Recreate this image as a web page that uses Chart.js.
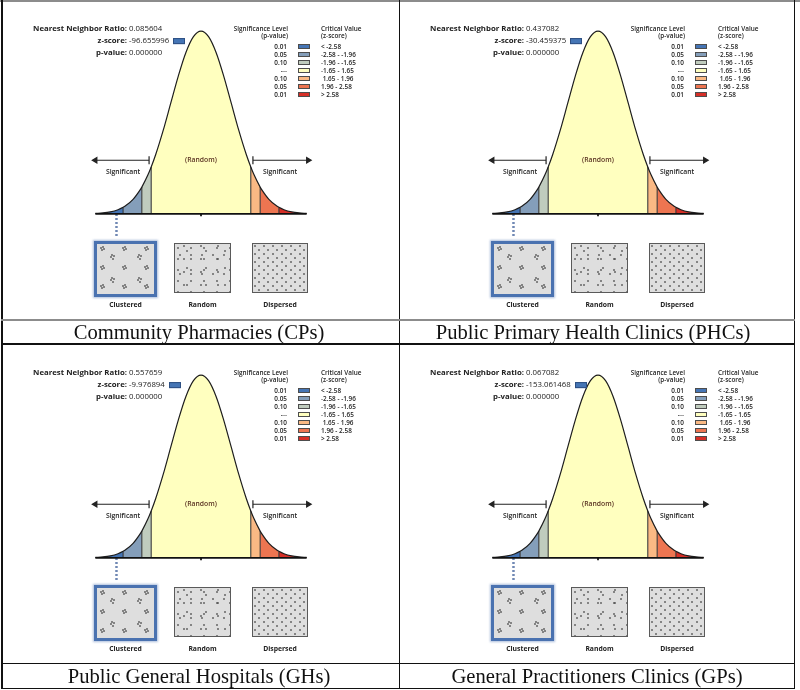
<!DOCTYPE html>
<html>
<head>
<meta charset="utf-8">
<script src="https://cdn.jsdelivr.net/npm/chart.js@4.4.0/dist/chart.umd.min.js"></script>
<style>
  body { margin: 0; width: 800px; height: 690px; background: #fff; position: relative; overflow: hidden;
         font-family: "Open Sans", "DejaVu Sans", sans-serif; color: #222; }
  .rule { position: absolute; background: #111; }
  .panel { position: absolute; width: 398px; height: 320px; }
  .panel canvas { position: absolute; left: 0; top: 0; }
  .txt { position: absolute; white-space: nowrap; line-height: 1; transform: translateY(-50%); }
  .stat-label { font-size: 7.8px; font-weight: 700; }
  .stat-value { font-size: 7.8px; }
  .leg { font-size: 6.4px; font-weight: 600; }
  .swatch { position: absolute; height: 5px; box-sizing: border-box; border: 1px solid #4d4d4d; }
  .zswatch { display: inline-block; width: 12px; height: 6px; margin-left: 4px; vertical-align: -1px;
             box-sizing: border-box; border: 1px solid #2d4f82; background: #4575b5; }
  .box { position: absolute; box-sizing: border-box; background-color: #dedede; border: 1px solid #5a5a5a; }
  .box.clustered { border: 3px solid #4a72b0; box-shadow: 0 0 2px 1px rgba(74, 114, 176, 0.45);
    background-image:
      radial-gradient(circle at 4px 4px, #444 0.5px, transparent 1px),
      radial-gradient(circle at 6px 3px, #444 0.5px, transparent 1px),
      radial-gradient(circle at 5px 6px, #444 0.5px, transparent 1px),
      radial-gradient(circle at 7px 5px, #444 0.5px, transparent 1px),
      radial-gradient(circle at 14px 13px, #444 0.5px, transparent 1px),
      radial-gradient(circle at 16px 15px, #444 0.5px, transparent 1px),
      radial-gradient(circle at 15px 11px, #444 0.5px, transparent 1px),
      radial-gradient(circle at 17px 12px, #444 0.5px, transparent 1px);
    background-size: 22px 19px, 22px 19px, 22px 19px, 22px 19px, 27px 23px, 27px 23px, 27px 23px, 27px 23px; }
  .box.random { background-image:
      radial-gradient(circle at 3px 4px, #444 0.5px, transparent 1px),
      radial-gradient(circle at 9px 2px, #444 0.5px, transparent 1px),
      radial-gradient(circle at 5px 11px, #444 0.5px, transparent 1px),
      radial-gradient(circle at 12px 7px, #444 0.5px, transparent 1px);
    background-size: 13px 11px, 17px 13px, 11px 19px, 19px 17px; }
  .box.dispersed { background-image:
      radial-gradient(circle at 2px 2px, #444 0.5px, transparent 1px),
      radial-gradient(circle at 6px 6px, #444 0.5px, transparent 1px);
    background-size: 9px 8px, 9px 8px; }
  .plabel { font-size: 6.8px; font-weight: 700; }
  .caption { position: absolute; font-family: "Liberation Serif", "Times New Roman", serif; font-size: 20.6px;
             white-space: nowrap; line-height: 1; transform: translate(-50%, -50%); color: #111; }
</style>
</head>
<body>
<script>
// --- DATA ---
const panelTitles = ['Community Pharmacies (CPs)', 'Public Primary Health Clinics (PHCs)',
                     'Public General Hospitals (GHs)', 'General Practitioners Clinics (GPs)'];
const nnRatios = ['0.085604', '0.437082', '0.557659', '0.067082'];
const zScores = ['-96.655996', '-30.459375', '-9.976894', '-153.061468'];
const pValues = ['0.000000', '0.000000', '0.000000', '0.000000'];

const bandEdges = [-3.5, -2.58, -1.96, -1.65, 1.65, 1.96, 2.58, 3.5];
const bandColors = ['#4575b5', '#849eba', '#c0ccbe', '#ffffbf', '#fab984', '#ed7551', '#d62f27'];
const sigLevels = ['0.01', '0.05', '0.10', '---', '0.10', '0.05', '0.01'];
const criticalValues = ['< -2.58', '-2.58 - -1.96', '-1.96 - -1.65', '-1.65 - 1.65', ' 1.65 - 1.96', '1.96 - 2.58', '> 2.58'];

// standard normal curve, read at fixed z steps plus the band edges
const curveZ = [-3.5, -3.25, -3, -2.75, -2.58, -2.5, -2.25, -2, -1.96, -1.75, -1.65, -1.5, -1.25, -1, -0.75, -0.5, -0.25,
                0, 0.25, 0.5, 0.75, 1, 1.25, 1.5, 1.65, 1.75, 1.96, 2, 2.25, 2.5, 2.58, 2.75, 3, 3.25, 3.5];
const curveDensity = [0.0009, 0.0020, 0.0044, 0.0091, 0.0143, 0.0175, 0.0317, 0.0540, 0.0584, 0.0863, 0.1023, 0.1295, 0.1826,
                      0.2420, 0.3011, 0.3521, 0.3867, 0.3989, 0.3867, 0.3521, 0.3011, 0.2420, 0.1826, 0.1295, 0.1023,
                      0.0863, 0.0584, 0.0540, 0.0317, 0.0175, 0.0143, 0.0091, 0.0044, 0.0020, 0.0009];

const arrowLeftZ = [-3.5, -1.72];
const arrowRightZ = [1.72, 3.55];
const arrowLevel = 0.117;
const clusterMarkerZ = -2.8;
const patternLabels = ['Clustered', 'Random', 'Dispersed'];

window.addEventListener('load', () => {

    const PANEL_W = 398;
    const panelOrigins = [[2, 0], [399, 0], [2, 344], [399, 344]];
    const captionCenters = [[199, 332], [593, 332], [199, 676], [597, 676]];

    // --- FRAME ---
    function rule(x, y, w, h, color) {
        const el = document.createElement('div');
        el.className = 'rule';
        Object.assign(el.style, { left: x + 'px', top: y + 'px', width: w + 'px', height: h + 'px' });
        if (color) el.style.background = color;
        document.body.appendChild(el);
    }
    rule(0, 0, 800, 2, '#8c8c8c');
    rule(1, 0, 1.5, 689);
    rule(398.5, 0, 1.5, 689);
    rule(793.5, 0, 1.5, 689);
    rule(1, 319, 794, 2, '#8c8c8c');
    rule(1, 343, 794, 1.5);
    rule(1, 662.5, 794, 1.5);
    rule(1, 687.5, 794, 1.5);

    // --- TEXT ---
    function addText(parent, text, x, y, cls, align) {
        const el = document.createElement('div');
        el.className = 'txt ' + cls;
        el.textContent = text;
        el.style.top = y + 'px';
        if (align === 'right') {
            el.style.right = (PANEL_W - x) + 'px';
        } else if (align === 'center') {
            el.style.left = x + 'px';
            el.style.transform = 'translate(-50%, -50%)';
        } else {
            el.style.left = x + 'px';
        }
        parent.appendChild(el);
        return el;
    }

    // --- CHART ---
    const diagramLabels = {
        id: 'diagramLabels',
        afterDatasetsDraw(chart) {
            const { ctx, scales: { x, y } } = chart;
            ctx.save();
            ctx.textAlign = 'center';
            ctx.textBaseline = 'middle';
            ctx.font = '600 6.8px "Open Sans"';
            ctx.fillStyle = '#5a3322';
            ctx.fillText('(Random)', x.getPixelForValue(0), y.getPixelForValue(arrowLevel));
            ctx.fillStyle = '#222';
            ctx.fillText('Significant', x.getPixelForValue(-2.58), y.getPixelForValue(0.092));
            ctx.fillText('Significant', x.getPixelForValue(2.62), y.getPixelForValue(0.092));
            ctx.restore();
        }
    };

    function buildDatasets() {
        const curve = curveZ.map((z, i) => ({ x: z, y: curveDensity[i] }));
        const datasets = [];
        bandColors.forEach((color, i) => {
            const lo = bandEdges[i], hi = bandEdges[i + 1];
            datasets.push({
                data: curve.filter(p => p.x >= lo && p.x <= hi),
                backgroundColor: color, fill: 'origin', borderWidth: 0, pointRadius: 0,
                cubicInterpolationMode: 'monotone', order: 5
            });
        });
        const edgeLines = [];
        bandEdges.slice(1, -1).forEach(z => {
            edgeLines.push({ x: z, y: 0 }, { x: z, y: curveDensity[curveZ.indexOf(z)] }, { x: z, y: null });
        });
        datasets.push({ data: edgeLines, borderColor: '#2a2a2a', borderWidth: 1, pointRadius: 0, spanGaps: false, order: 3 });
        datasets.push({ data: curve, borderColor: '#1e1e1e', borderWidth: 1.2, pointRadius: 0,
                        cubicInterpolationMode: 'monotone', order: 2 });
        datasets.push({ data: [{ x: bandEdges[0], y: 0 }, { x: bandEdges[bandEdges.length - 1], y: 0 }],
                        borderColor: '#111', borderWidth: 1.6, pointRadius: 0, order: 1 });
        datasets.push({ data: [{ x: 0, y: 0 }, { x: 0, y: -0.005 }], borderColor: '#111', borderWidth: 1, pointRadius: 0, order: 1 });
        // significance arrows
        datasets.push({
            data: arrowLeftZ.map(z => ({ x: z, y: arrowLevel })),
            borderColor: '#222', borderWidth: 1.2, order: 1,
            pointStyle: ['triangle', 'line'], pointRotation: [-90, 90], pointRadius: [3, 4],
            pointBackgroundColor: '#222', pointBorderColor: '#222', pointBorderWidth: 1.2
        });
        datasets.push({
            data: arrowRightZ.map(z => ({ x: z, y: arrowLevel })),
            borderColor: '#222', borderWidth: 1.2, order: 1,
            pointStyle: ['line', 'triangle'], pointRotation: [90, 90], pointRadius: [4, 3],
            pointBackgroundColor: '#222', pointBorderColor: '#222', pointBorderWidth: 1.2
        });
        // dotted pointer down to the clustered pattern
        datasets.push({ data: [{ x: clusterMarkerZ, y: 0 }, { x: clusterMarkerZ, y: -0.06 }],
                        borderColor: '#7088b4', borderWidth: 2.5, borderDash: [2, 2], pointRadius: 0, order: 1 });
        return datasets;
    }

    function buildPanel(p) {
        const [ox, oy] = panelOrigins[p];
        const panel = document.createElement('div');
        panel.className = 'panel';
        panel.style.left = ox + 'px';
        panel.style.top = oy + 'px';
        document.body.appendChild(panel);

        const canvas = document.createElement('canvas');
        canvas.width = PANEL_W;
        canvas.height = 243;
        panel.appendChild(canvas);

        new Chart(canvas.getContext('2d'), {
            type: 'line',
            data: { datasets: buildDatasets() },
            options: {
                responsive: false,
                animation: false,
                events: [],
                layout: { padding: 0 },
                plugins: { legend: { display: false }, tooltip: { enabled: false } },
                scales: {
                    x: { type: 'linear', min: -6.42, max: 6.42, display: false },
                    y: { min: -0.0522, max: 0.4553, display: false }
                }
            },
            plugins: [diagramLabels]
        });

        // stats block
        addText(panel, 'Nearest Neighbor Ratio:', 125, 28.5, 'stat-label', 'right');
        addText(panel, nnRatios[p], 127, 28.5, 'stat-value');
        addText(panel, 'z-score:', 125, 40.5, 'stat-label', 'right');
        const z = addText(panel, zScores[p], 127, 40.5, 'stat-value');
        const sw = document.createElement('span');
        sw.className = 'zswatch';
        z.appendChild(sw);
        addText(panel, 'p-value:', 125, 52.5, 'stat-label', 'right');
        addText(panel, pValues[p], 127, 52.5, 'stat-value');

        // legend
        addText(panel, 'Significance Level', 286, 28.5, 'leg', 'right');
        addText(panel, '(p-value)', 286, 36, 'leg', 'right');
        addText(panel, 'Critical Value', 319, 28.5, 'leg');
        addText(panel, '(z-score)', 319, 36, 'leg');
        sigLevels.forEach((lvl, i) => {
            const y = 46.5 + 8 * i;
            addText(panel, lvl, 285, y, 'leg', 'right');
            const s = document.createElement('div');
            s.className = 'swatch';
            Object.assign(s.style, { left: '296px', top: (y - 2.5) + 'px', width: '12px', background: bandColors[i] });
            panel.appendChild(s);
            const t = addText(panel, criticalValues[i], 319, y, 'leg');
            t.style.whiteSpace = 'pre';
        });

        // pattern boxes
        const boxes = [[92, 241, 63, 56, 'clustered'], [172, 243, 57, 50, 'random'], [250, 243, 56, 50, 'dispersed']];
        boxes.forEach(([bx, by, bw, bh, kind], i) => {
            const b = document.createElement('div');
            b.className = 'box ' + kind;
            Object.assign(b.style, { left: bx + 'px', top: by + 'px', width: bw + 'px', height: bh + 'px' });
            panel.appendChild(b);
            addText(panel, patternLabels[i], bx + bw / 2, 305, 'plabel', 'center');
        });

        // caption
        const cap = document.createElement('div');
        cap.className = 'caption';
        cap.textContent = panelTitles[p];
        cap.style.left = captionCenters[p][0] + 'px';
        cap.style.top = captionCenters[p][1] + 'px';
        document.body.appendChild(cap);
    }

    panelTitles.forEach((t, p) => buildPanel(p));
});
</script>
</body>
</html>
